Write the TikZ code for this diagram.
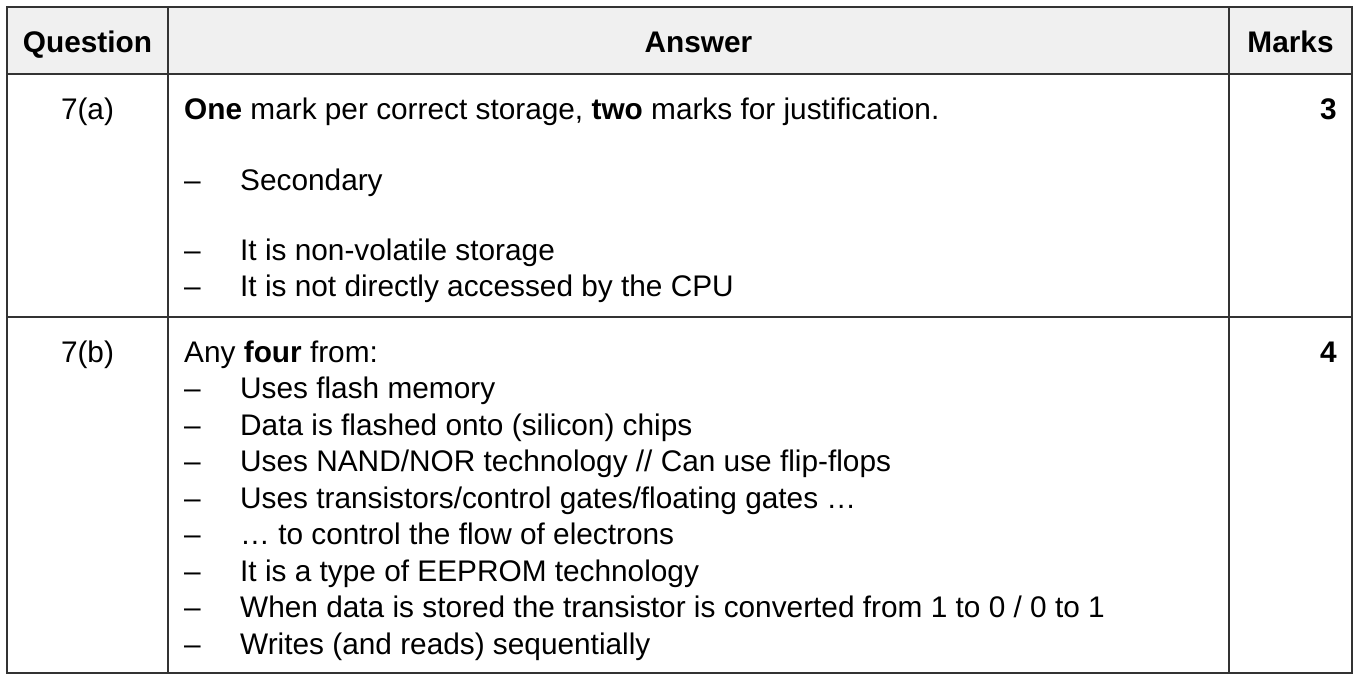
\documentclass[tikz,border=0pt]{standalone}
\usepackage{fontspec}
\setmainfont{Liberation Sans}
\newcommand{\tfs}{\fontsize{29.8}{36}\selectfont}
\begin{document}
\begin{tikzpicture}[x=1pt,y=-1pt,
  rule/.style={draw=black!80,line width=1.2pt},
  txt/.style={anchor=base west,inner sep=0pt,font=\tfs},
  ctr/.style={anchor=base,inner sep=0pt,font=\tfs},
  hdr/.style={anchor=base,inner sep=0pt,font=\tfs\bfseries},
  rgt/.style={anchor=base east,inner sep=0pt,font=\tfs\bfseries},
  dashmark/.style={anchor=base west,inner sep=0pt,font=\tfs}]
\useasboundingbox (0,0) rectangle (1364,680);
% header background
\fill[black!6] (7,7) rectangle (1352,74);
% grid
\draw[rule] (7,7) rectangle (1352,673);
\draw[rule] (7,74) -- (1352,74);
\draw[rule] (7,317) -- (1352,317);
\draw[rule] (168,7) -- (168,673);
\draw[rule] (1229,7) -- (1229,673);
% header
\node[hdr] (hq) at (87.5,52) {Question};
\node[hdr] (ha) at (698.5,52) {Answer};
\node[hdr] (hm) at (1290.5,52) {Marks};
% row a
\node[ctr] (qa) at (87.5,119) {7(a)};
\node[txt] (a0) at (184,119) {\textbf{One} mark per correct storage, \textbf{two} marks for justification.};
\node[rgt] (ma) at (1337,119) {3};
\node[dashmark] (da1) at (184,190) {–};
\node[txt] (a1) at (240,190) {Secondary};
\node[dashmark] (da2) at (184,260) {–};
\node[txt] (a2) at (240,260) {It is non-volatile storage};
\node[dashmark] (da3) at (184,296) {–};
\node[txt] (a3) at (240,296) {It is not directly accessed by the CPU};
% row b
\node[ctr] (qb) at (87.5,362) {7(b)};
\node[txt] (b0) at (184,362) {Any \textbf{four} from:};
\node[rgt] (mb) at (1337,362) {4};
\foreach \i in {1,...,8}{
  \node[dashmark] (db\i) at (184,{362+36.5*\i}) {–};
}
\node[txt] (b1) at (240,398.5) {Uses flash memory};
\node[txt] (b2) at (240,435) {Data is flashed onto (silicon) chips};
\node[txt] (b3) at (240,471.5) {Uses NAND/NOR technology // Can use flip-flops};
\node[txt] (b4) at (240,508) {Uses transistors/control gates/floating gates …};
\node[txt] (b5) at (240,544.5) {… to control the flow of electrons};
\node[txt] (b6) at (240,581) {It is a type of EEPROM technology};
\node[txt] (b7) at (240,617.5) {When data is stored the transistor is converted from 1 to 0 / 0 to 1};
\node[txt] (b8) at (240,654) {Writes (and reads) sequentially};
\end{tikzpicture}
\end{document}
